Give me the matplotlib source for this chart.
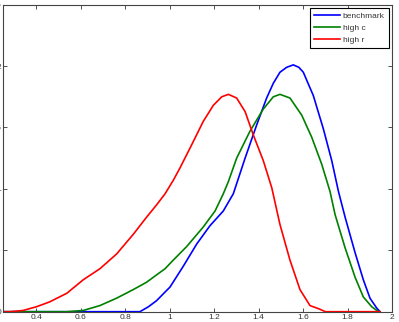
import matplotlib
matplotlib.use("Agg")
import matplotlib.pyplot as plt

# density curves
bench_x = [0.25, 0.866, 0.904, 0.941, 0.979, 1.001, 1.061, 1.121, 1.181, 1.241, 1.286,
           1.339, 1.391, 1.436, 1.466, 1.496, 1.526, 1.556, 1.581, 1.601, 1.646, 1.691,
           1.729, 1.759, 1.789, 1.834, 1.871, 1.901, 1.931, 1.946]
bench_y = [0.0, 0.0, 0.04, 0.09, 0.16, 0.20, 0.37, 0.55, 0.70, 0.82, 0.96,
           1.25, 1.52, 1.74, 1.86, 1.95, 1.99, 2.01, 1.99, 1.95, 1.76, 1.49,
           1.23, 0.98, 0.77, 0.48, 0.26, 0.11, 0.03, 0.0]

highc_x = [0.25, 0.537, 0.611, 0.686, 0.761, 0.836, 0.896, 0.941, 0.979, 1.016, 1.076,
           1.151, 1.204, 1.241, 1.264, 1.301, 1.361, 1.421, 1.466, 1.496, 1.541, 1.594,
           1.639, 1.684, 1.721, 1.744, 1.789, 1.834, 1.871, 1.909, 1.939]
highc_y = [0.0, 0.0, 0.01, 0.05, 0.11, 0.18, 0.24, 0.30, 0.35, 0.42, 0.53,
           0.69, 0.82, 0.96, 1.06, 1.25, 1.47, 1.65, 1.75, 1.77, 1.74, 1.60,
           1.42, 1.20, 0.98, 0.79, 0.52, 0.28, 0.12, 0.04, 0.0]

highr_x = [0.25, 0.28, 0.34, 0.4, 0.46, 0.537, 0.611, 0.686, 0.761, 0.836, 0.896, 0.941,
           0.979, 1.016, 1.046, 1.099, 1.151, 1.196, 1.234, 1.264, 1.301, 1.339, 1.376,
           1.421, 1.459, 1.496, 1.541, 1.586, 1.631, 1.676, 1.70, 1.946]
highr_y = [0.0, 0.0, 0.01, 0.04, 0.08, 0.15, 0.26, 0.35, 0.47, 0.63, 0.77, 0.87,
           0.96, 1.07, 1.17, 1.36, 1.55, 1.68, 1.75, 1.77, 1.74, 1.63, 1.44,
           1.23, 1.01, 0.71, 0.42, 0.18, 0.05, 0.02, 0.0, 0.0]

xticks = [0.4, 0.6, 0.8, 1, 1.2, 1.4, 1.6, 1.8, 2]
xlabels = ["0.4", "0.6", "0.8", "1", "1.2", "1.4", "1.6", "1.8", "2"]
yticks = [0, 0.5, 1, 1.5, 2, 2.5]
ylabels = ["0", "0.5", "1", "1.5", "2", "2.5"]

plt.rcParams['font.family'] = ['Liberation Sans', 'DejaVu Sans']

fig = plt.figure(figsize=(3.99, 3.22), dpi=100)
ax = fig.add_axes([3 / 399, 10.3 / 322, 389 / 399, 307 / 322])

ax.plot(bench_x, bench_y, color=(0, 0, 1), lw=1.2, label="benchmark")
ax.plot(highc_x, highc_y, color=(0, 0.5, 0), lw=1.2, label="high c")
ax.plot(highr_x, highr_y, color=(1, 0, 0), lw=1.2, label="high r")

ax.set_xlim(0.25, 2)
ax.set_ylim(0, 2.5)
ax.set_xticks(xticks)
ax.set_xticklabels(xlabels)
ax.set_yticks(yticks)
ax.set_yticklabels(ylabels)
ax.tick_params(direction="in", length=3, width=0.6, labelsize=6, top=True, right=True,
               colors="#333333", pad=1.5)
for s in ax.spines.values():
    s.set_linewidth(0.8)
    s.set_color("#444444")

leg = ax.legend(loc="upper right", bbox_to_anchor=(385.5 / 389, 1 - 3.5 / 307),
                fontsize=6, frameon=True, fancybox=False, framealpha=1,
                edgecolor="black", handlelength=3.1, handletextpad=0.4,
                borderpad=0.45, labelspacing=0.5, borderaxespad=0)
leg.get_frame().set_linewidth(0.8)
for t in leg.get_texts():
    t.set_color("#333333")

fig.savefig("out.png", dpi=100)
